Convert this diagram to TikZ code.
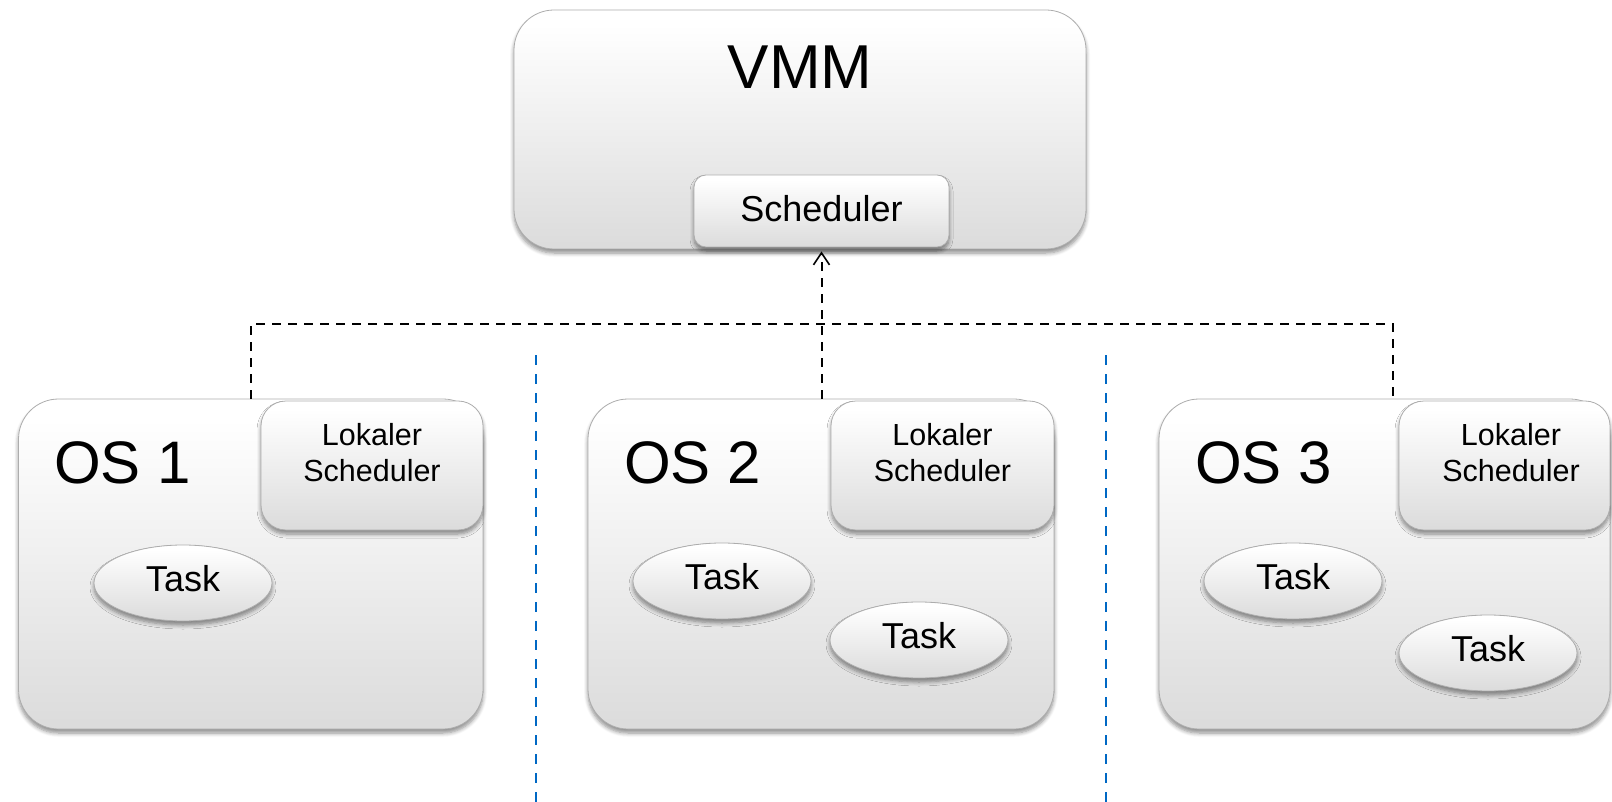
\documentclass[tikz,border=0pt]{standalone}
\usepackage{fontspec}
\setmainfont{Liberation Sans}
\usetikzlibrary{shapes.geometric,arrows.meta,shadows.blur}

% soft vertical fill: white on top, light grey towards the bottom
\pgfdeclareverticalshading{boxshade}{100bp}{%
  color(0bp)=(black!18); color(25bp)=(black!14); color(55bp)=(black!5);
  color(72bp)=(white); color(100bp)=(white)}
\definecolor{divblue}{RGB}{0,104,196}

\tikzset{
  softshadow/.style={blur shadow={shadow xshift=0pt, shadow yshift=-4pt,
      shadow blur steps=6, shadow blur radius=4pt, shadow opacity=45}},
  panel/.style={rectangle, draw=black!32, line width=0.8pt, shading=boxshade,
      softshadow, inner sep=0pt},
  taskshape/.style={ellipse, draw=black!32, line width=0.8pt, shading=boxshade,
      softshadow, inner sep=0pt, minimum width=178pt, minimum height=76pt,
      font=\fontsize{36}{40}\selectfont, text depth=10pt},
  biglabel/.style={font=\fontsize{62}{70}\selectfont, inner sep=0pt},
  oslabel/.style={font=\fontsize{60}{66}\selectfont, inner sep=0pt, anchor=base west},
  loklabel/.style={font=\fontsize{30.5}{36}\selectfont, align=center, inner sep=0pt},
  dashline/.style={draw=black, line width=2pt, dash pattern=on 9pt off 7pt},
  divider/.style={draw=divblue, line width=2.2pt, dash pattern=on 10pt off 9pt},
}

\begin{document}
\begin{tikzpicture}[x=1pt,y=-1pt]
\useasboundingbox (0,0) rectangle (1612,802);
\clip (0,0) rectangle (1612,802);

% hypervisor with its scheduler
\node[panel, rounded corners=40pt, minimum width=572pt, minimum height=239pt] (vmm) at (800,129.5) {};
\node[biglabel, anchor=base] (vmmtxt) at (800,89) {VMM};
\node[panel, rounded corners=12pt, minimum width=255pt, minimum height=72pt,
      font=\fontsize{36}{40}\selectfont, text depth=6pt] (sched) at (821.5,211) {Scheduler};

% guest systems
\node[panel, rounded corners=40pt, minimum width=464.5pt, minimum height=330pt] (os1) at (250.75,564) {};
\node[panel, rounded corners=40pt, minimum width=466pt, minimum height=330pt] (os2) at (821,564) {};
\node[panel, rounded corners=40pt, minimum width=451pt, minimum height=330pt] (os3) at (1384.5,564) {};

\node[oslabel] (os1txt) at (54,483) {OS 1};
\node[oslabel] (os2txt) at (624,483) {OS 2};
\node[oslabel] (os3txt) at (1195,483) {OS 3};

% local schedulers
\node[panel, rounded corners=25pt, minimum width=222pt, minimum height=129pt] (lok1) at (372,465.5) {};
\node[panel, rounded corners=25pt, minimum width=223pt, minimum height=129pt] (lok2) at (942.5,465.5) {};
\node[panel, rounded corners=25pt, minimum width=211pt, minimum height=129pt] (lok3) at (1504.5,465.5) {};
\node[loklabel] (lok1txt) at (372,453) {Lokaler\\Scheduler};
\node[loklabel] (lok2txt) at (942.5,453) {Lokaler\\Scheduler};
\node[loklabel] (lok3txt) at (1511,453) {Lokaler\\Scheduler};

% tasks
\node[taskshape] (t1) at (183,583) {Task};
\node[taskshape] (t2a) at (722,581) {Task};
\node[taskshape] (t2b) at (919,640) {Task};
\node[taskshape] (t3a) at (1293,581) {Task};
\node[taskshape] (t3b) at (1488,653) {Task};

% separators between the guests
\coordinate (d1top) at (536,355);
\coordinate (d1bot) at (536,802);
\coordinate (d2top) at (1106,355);
\coordinate (d2bot) at (1106,802);
\draw[divider] (d1top) -- (d1bot);
\draw[divider] (d2top) -- (d2bot);

% communication with the VMM scheduler
\coordinate (busL) at (251,324);
\coordinate (busR) at (1393,324);
\draw[dashline] (os1.north -| busL) -- (busL) -- (busR) -- (os3.north -| busR);
\draw[dashline, -{Straight Barb[length=12pt,width=16pt,line width=1.6pt]}, shorten >=4pt]
  (os2.north -| sched.south) -- (sched.south);
\end{tikzpicture}
\end{document}
